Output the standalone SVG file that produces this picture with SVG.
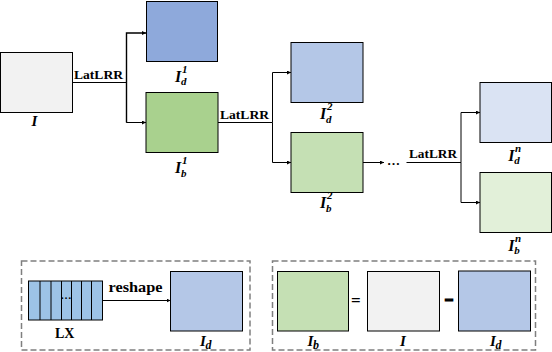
<svg xmlns="http://www.w3.org/2000/svg" width="552" height="352" viewBox="0 0 552 352">
<style>
.box{stroke:#000;stroke-width:1}
.ln{stroke:#000;stroke-width:1;fill:none}
.dash{fill:none;stroke:#7F7F7F;stroke-width:1.5;stroke-dasharray:6 3}
text{font-family:"Liberation Serif","DejaVu Serif",serif;font-weight:bold;fill:#000}
.it{font-style:italic}
.big{font-size:16px}
.mid{font-size:15px}
.sm{font-size:11px}
.bs{font-size:12px}
</style>
<defs>
<marker id="arr" markerUnits="userSpaceOnUse" markerWidth="5" markerHeight="4" refX="4" refY="2" orient="auto">
<path d="M0,0 L4,2 L0,4 z" fill="#000"/>
</marker>
</defs>

<g id="connectors">
<polyline class="ln" points="73,82.5 126.5,82.5"/>
<polyline class="ln" points="126.5,122.5 126.5,33 146,33" marker-end="url(#arr)" style="stroke-width:1.4"/>
<polyline class="ln" points="126.5,82.5 126.5,122.5 146,122.5" marker-end="url(#arr)"/>
<polyline class="ln" points="218,122.5 272.5,122.5"/>
<polyline class="ln" points="272.5,122.5 272.5,72.5 291,72.5" marker-end="url(#arr)"/>
<polyline class="ln" points="272.5,122.5 272.5,162.5 291,162.5" marker-end="url(#arr)"/>
<polyline class="ln" points="363,162.5 384,162.5" marker-end="url(#arr)"/>
<polyline class="ln" points="406.5,162.5 461,162.5"/>
<polyline class="ln" points="461,162.5 461,112.5 480,112.5" marker-end="url(#arr)"/>
<polyline class="ln" points="461,162.5 461,202.5 480,202.5" marker-end="url(#arr)"/>
<polyline class="ln" points="102.5,300.5 170.5,300.5" marker-end="url(#arr)"/>
<text x="74" y="79" font-size="13.5" textLength="49" lengthAdjust="spacingAndGlyphs">LatLRR</text>
<text x="220" y="119" font-size="13.5" textLength="49" lengthAdjust="spacingAndGlyphs">LatLRR</text>
<text x="409" y="158" font-size="13.5" textLength="48" lengthAdjust="spacingAndGlyphs">LatLRR</text>
<text x="387" y="165" font-size="13">…</text>
<text x="108.5" y="292" font-size="15" textLength="54" lengthAdjust="spacingAndGlyphs">reshape</text>
</g>

<g id="node-I">
<rect class="box" x="0.5" y="52.5" width="72" height="60" fill="#F2F2F2"/>
<text class="it mid" x="31.5" y="126">I</text>
</g>

<g id="node-Id1">
<rect class="box" x="146.5" y="1.5" width="71" height="60" fill="#8EA9DB"/>
<text class="it big" x="175" y="81.7">I</text>
<text class="it sm" x="181" y="85.2">d</text>
<text class="it sm" x="182" y="72.7">1</text>
</g>

<g id="node-Ib1">
<rect class="box" x="146" y="92.5" width="72" height="60" fill="#A9D18E"/>
<text class="it big" x="175" y="173.3">I</text>
<text class="it sm" x="181" y="176.8">b</text>
<text class="it sm" x="182" y="164.3">1</text>
</g>

<g id="node-Id2">
<rect class="box" x="291" y="42.5" width="72" height="60" fill="#B4C7E7"/>
<text class="it big" x="320" y="119.3">I</text>
<text class="it sm" x="326" y="122.8">d</text>
<text class="it sm" x="327" y="110.3">2</text>
</g>

<g id="node-Ib2">
<rect class="box" x="291" y="132.5" width="72" height="60" fill="#C5E0B4"/>
<text class="it big" x="320" y="208.3">I</text>
<text class="it sm" x="326" y="211.8">b</text>
<text class="it sm" x="327" y="199.3">2</text>
</g>

<g id="node-Idn">
<rect class="box" x="480" y="82.5" width="71.5" height="60" fill="#DAE3F3"/>
<text class="it big" x="508.3" y="160.7">I</text>
<text class="it sm" x="514.3" y="164.2">d</text>
<text class="it sm" x="515" y="151.7">n</text>
</g>

<g id="node-Ibn">
<rect class="box" x="480" y="172.5" width="71.5" height="60" fill="#E2F0D9"/>
<text class="it big" x="508.3" y="250.7">I</text>
<text class="it sm" x="514.3" y="254.2">b</text>
<text class="it sm" x="515" y="241.7">n</text>
</g>

<g id="panel-reshape">
<rect class="dash" x="21.5" y="261" width="228.5" height="89"/>
<g id="node-LX">
<rect class="box" x="28.5" y="281" width="74" height="39" fill="#9DC3E6"/>
<path class="ln" d="M40,281V320M51,281V320M61.5,281V320M71.5,281V320M81.5,281V320M91.5,281V320"/>
<text x="60.5" y="299" font-size="11">…</text>
<text x="55" y="338" font-size="14">LX</text>
</g>
<g id="node-Id-a">
<rect class="box" x="170.5" y="271.5" width="72" height="59.5" fill="#B4C7E7"/>
<text class="it mid" x="200" y="346">I</text>
<text class="it bs" x="205.5" y="349">d</text>
</g>
</g>

<g id="panel-equation">
<rect class="dash" x="272.5" y="261" width="263" height="89"/>
<g id="node-Ib">
<rect class="box" x="277.5" y="271.5" width="71" height="59.5" fill="#C5E0B4"/>
<text class="it mid" x="307.5" y="346">I</text>
<text class="it bs" x="313" y="349">b</text>
</g>
<text x="351" y="306" font-size="17" font-weight="normal">=</text>
<g id="node-I-b">
<rect class="box" x="367.5" y="271.5" width="72" height="59.5" fill="#F2F2F2"/>
<text class="it mid" x="400" y="346">I</text>
</g>
<text x="444.5" y="305" font-size="20" textLength="9" lengthAdjust="spacingAndGlyphs" stroke="#000" stroke-width="1.2">-</text>
<g id="node-Id-b">
<rect class="box" x="458.5" y="271" width="72" height="60" fill="#B4C7E7"/>
<text class="it mid" x="490" y="346">I</text>
<text class="it bs" x="495.5" y="349">d</text>
</g>
</g>
</svg>
